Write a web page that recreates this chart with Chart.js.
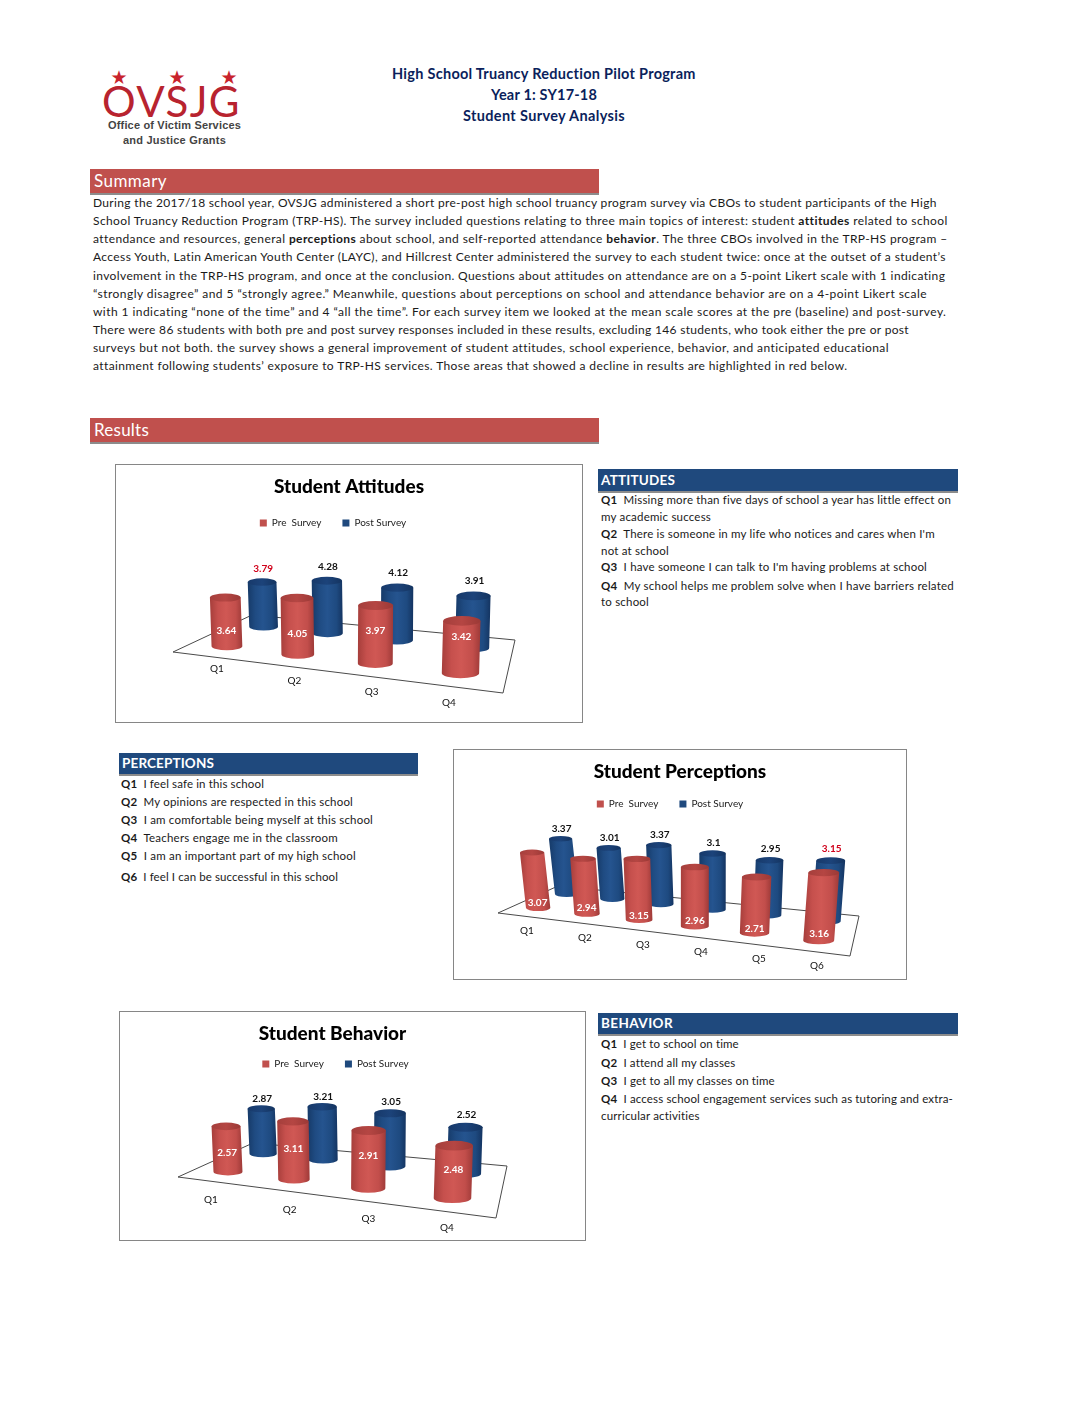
<!DOCTYPE html>
<html><head><meta charset="utf-8">
<script src="https://cdn.jsdelivr.net/npm/chart.js@4"></script>
<style>
html,body{margin:0;padding:0;background:#fff;width:1088px;height:1408px;overflow:hidden}
body{position:relative;font-family:Lato,sans-serif;color:#1a1a1a}
.t{position:absolute;white-space:nowrap;line-height:1;display:inline-block}
.bar{position:absolute;box-sizing:border-box;border-bottom:2px solid #8c8c8c}
.box{position:absolute;box-sizing:border-box;border:1px solid #868686;background:#fff}
.box canvas{position:absolute;left:0;top:0}
</style></head><body>
<script>
/* ---------- chart data ---------- */
const attitudesCategories = ['Q1','Q2','Q3','Q4'];
const attitudesPre  = [3.64,4.05,3.97,3.42];
const attitudesPost = [3.79,4.28,4.12,3.91];
const perceptionsCategories = ['Q1','Q2','Q3','Q4','Q5','Q6'];
const perceptionsPre  = [3.07,2.94,3.15,2.96,2.71,3.16];
const perceptionsPost = [3.37,3.01,3.37,3.1,2.95,3.15];
const behaviorCategories = ['Q1','Q2','Q3','Q4'];
const behaviorPre  = [2.57,3.11,2.91,2.48];
const behaviorPost = [2.87,3.21,3.05,2.52];
const seriesNames = ['Pre  Survey','Post Survey'];
/* post-survey items flagged in red */
const attitudesDeclines = [0];
const perceptionsDeclines = [5];
const behaviorDeclines = [];

/* ---------- page text ---------- */
const titleLines = ['High School Truancy Reduction Pilot Program','Year 1: SY17-18','Student Survey Analysis'];
const summaryLines = [
'During the 2017/18 school year, OVSJG administered a short pre-post high school truancy program survey via CBOs to student participants of the High',
'School Truancy Reduction Program (TRP-HS). The survey included questions relating to three main topics of interest: student <b>attitudes</b> related to school',
'attendance and resources, general <b>perceptions</b> about school, and self-reported attendance <b>behavior</b>. The three CBOs involved in the TRP-HS program –',
'Access Youth, Latin American Youth Center (LAYC), and Hillcrest Center administered the survey to each student twice: once at the outset of a student’s',
'involvement in the TRP-HS program, and once at the conclusion. Questions about attitudes on attendance are on a 5-point Likert scale with 1 indicating',
'“strongly disagree” and 5 “strongly agree.” Meanwhile, questions about perceptions on school and attendance behavior are on a 4-point Likert scale',
'with 1 indicating “none of the time” and 4 “all the time”. For each survey item we looked at the mean scale scores at the pre (baseline) and post-survey.',
'There were 86 students with both pre and post survey responses included in these results, excluding 146 students, who took either the pre or post',
'surveys but not both. the survey shows a general improvement of student attitudes, school experience, behavior, and anticipated educational',
'attainment following students’ exposure to TRP-HS services. Those areas that showed a decline in results are highlighted in red below.'];
const summaryRights = [937,948,947,946,945,927,947,909,889,847];
const summaryYs = [202.5,220.5,238.5,256.5,275.5,293.5,311.5,329.5,347.5,365.5];
const attitudesText = [
['<b>Q1</b>&nbsp; Missing more than five days of school a year has little effect on',500,950],
['my academic success',517,711],
['<b>Q2</b>&nbsp; There is someone in my life who notices and cares when I\'m',534,935],
['not at school',551,669],
['<b>Q3</b>&nbsp; I have someone I can talk to I\'m having problems at school',567,927],
['<b>Q4</b>&nbsp; My school helps me problem solve when I have barriers related',586,954],
['to school',602,649]];
const perceptionsText = [
['<b>Q1</b>&nbsp; I feel safe in this school',784,264],
['<b>Q2</b>&nbsp; My opinions are respected in this school',802,353],
['<b>Q3</b>&nbsp; I am comfortable being myself at this school',820,373],
['<b>Q4</b>&nbsp; Teachers engage me in the classroom',838,338],
['<b>Q5</b>&nbsp; I am an important part of my high school',856,356],
['<b>Q6</b>&nbsp; I feel I can be successful in this school',877,338]];
const behaviorText = [
['<b>Q1</b>&nbsp; I get to school on time',1044,739],
['<b>Q2</b>&nbsp; I attend all my classes',1063,735],
['<b>Q3</b>&nbsp; I get to all my classes on time',1081,775],
['<b>Q4</b>&nbsp; I access school engagement services such as tutoring and extra-',1099,953],
['curricular activities',1116,700]];

/* ---------- page helpers ---------- */
function place(html,left,cy,right,css){
  const d=document.createElement('div');d.className='t';d.innerHTML=html;
  Object.assign(d.style,{left:left+'px',top:'0px'},css||{});
  document.body.appendChild(d);
  const r=d.getBoundingClientRect();
  if(right!=null){
    const n=d.textContent.length;
    d.style.letterSpacing=((right-left-r.width)/n)+'px';
  }
  d.style.top=(cy-r.height/2)+'px';
  return d;
}
function band(x,y,w,h,color){
  const b=document.createElement('div');b.className='bar';
  Object.assign(b.style,{left:x+'px',top:y+'px',width:w+'px',height:h+'px',background:color});
  document.body.appendChild(b);
}
/* logo */
place('OVSJG',102,100.5,241,{fontSize:'42px',fontWeight:'400',color:'#b8232f'});
[119,177,229].forEach(x=>{
  place('★',x-10,77,null,{fontFamily:'"DejaVu Sans"',fontSize:'19px',color:'#c8232c',width:'20px',textAlign:'center'});
});
place('Office of Victim Services',108,125.5,241,{fontFamily:'"Liberation Sans"',fontWeight:'700',fontSize:'11px',color:'#444'});
place('and Justice Grants',123,140.5,226,{fontFamily:'"Liberation Sans"',fontWeight:'700',fontSize:'11px',color:'#444'});
/* title */
[[392,696,74],[491,597,95],[463,625,116]].forEach((p,i)=>{
  place(titleLines[i],p[0],p[2],p[1],{fontWeight:'700',fontSize:'14.5px',color:'#0b1f5c'});
});
/* section bands */
band(90,169,509,26,'#C0504D');band(90,418,509,26,'#C0504D');
band(598,469,360,24,'#1F497D');band(119,753,299,23,'#1F497D');band(598,1013,360,23,'#1F497D');
place('Summary',94,180.5,167,{fontSize:'17px',color:'#fff'});
place('Results',94,429.5,149,{fontSize:'17px',color:'#fff'});
place('ATTITUDES',601,481,675,{fontSize:'13.5px',fontWeight:'700',color:'#fff'});
place('PERCEPTIONS',122,764,214,{fontSize:'13.5px',fontWeight:'700',color:'#fff'});
place('BEHAVIOR',601,1024,673,{fontSize:'13.5px',fontWeight:'700',color:'#fff'});
summaryLines.forEach((s,i)=>place(s,93,summaryYs[i],summaryRights[i],{fontSize:'12px'}));
attitudesText.forEach(l=>place(l[0],601,l[1],l[2],{fontSize:'11.5px'}));
perceptionsText.forEach(l=>place(l[0],121,l[1],l[2],{fontSize:'11.5px'}));
behaviorText.forEach(l=>place(l[0],601,l[1],l[2],{fontSize:'11.5px'}));

/* ---------- 3-D look built on the library's scales ---------- */
function quadMap(q){
  const [x0,y0]=q[0],[x1,y1]=q[1],[x2,y2]=q[2],[x3,y3]=q[3];
  const dx1=x1-x2,dx2=x3-x2,sx=x0-x1+x2-x3,dy1=y1-y2,dy2=y3-y2,sy=y0-y1+y2-y3;
  const den=dx1*dy2-dx2*dy1,g=(sx*dy2-dx2*sy)/den,h=(dx1*sy-sx*dy1)/den;
  const a=x1-x0+g*x1,b=x3-x0+h*x3,c=x0,d=y1-y0+g*y1,e=y3-y0+h*y3,f=y0;
  return (u,v)=>{const w=g*u+h*v+1;return {x:(a*u+b*v+c)/w,y:(d*u+e*v+f)/w};};
}
const shades={
  '#C0504D':{side:['#a63e3b','#c6504d','#d05854','#c24e4b','#9e3a38'],cap:['#a53f3c','#b54643','#9b3936']},
  '#1F497D':{side:['#163a68','#1f4b82','#25548f','#1e4a80','#143461'],cap:['#17396a','#1c437a','#143460']}
};
function cylinder(ctx,base,top,w,ratio,color){
  const rx=w/2,ry=w*ratio,s=shades[color];
  const l=Math.min(base.x,top.x)-rx,r=Math.max(base.x,top.x)+rx;
  const g=ctx.createLinearGradient(l,0,r,0);
  s.side.forEach((c,i)=>g.addColorStop([0,.25,.5,.8,1][i],c));
  ctx.fillStyle=g;
  ctx.beginPath();ctx.moveTo(top.x-rx,top.y);ctx.lineTo(top.x+rx,top.y);ctx.lineTo(base.x+rx,base.y);
  ctx.ellipse(base.x,base.y,rx,ry,0,0,Math.PI);ctx.closePath();ctx.fill();
  const c=ctx.createLinearGradient(top.x-rx,0,top.x+rx,0);
  c.addColorStop(0,s.cap[0]);c.addColorStop(.5,s.cap[1]);c.addColorStop(1,s.cap[2]);
  ctx.fillStyle=c;ctx.beginPath();ctx.ellipse(top.x,top.y,rx,ry,0,0,Math.PI*2);ctx.fill();
}
function geometry(chart,di,i){
  const cfg=chart.options.plugins.floor3d,map=chart.$map||(chart.$map=quadMap(cfg.floor));
  const xs=chart.scales.x,a=chart.chartArea,n=chart.data.labels.length;
  const el=chart.getDatasetMeta(di).data[i];
  const catW=a.width/n,u=(xs.getPixelForValue(i)-a.left)/a.width;
  const v=di===0?cfg.vPre:cfg.vPost;
  const p=map(u,v),p1=map(u-.5/n,v),p2=map(u+.5/n,v);
  const local=Math.hypot(p2.x-p1.x,p2.y-p1.y);
  const w=Math.pow(local,.7)*cfg.widthK*el.width/catW;
  const h=(el.base-el.y)/a.height*cfg.heightFactor*(di===0?1:cfg.backRow)*Math.sqrt(local);
  const top={x:p.x+(u-cfg.leanCenter)*cfg.lean*h,y:p.y-h};
  return {base:p,top,w,h};
}
const floor3d={
  id:'floor3d',
  afterLayout(chart,_,o){
    chart.titleBlock.left+=o.titleShift;chart.titleBlock.right+=o.titleShift;
    chart.legend.left+=o.legendShift;chart.legend.right+=o.legendShift;
    chart.legend.top=o.legendTop;
    chart.$map=null;
  },
  beforeDatasetsDraw(chart,_,o){
    const ctx=chart.ctx,q=o.floor;
    ctx.save();ctx.strokeStyle='#4a4a4a';ctx.lineWidth=1;ctx.fillStyle='#fff';
    ctx.beginPath();q.forEach((p,i)=>i?ctx.lineTo(p[0],p[1]):ctx.moveTo(p[0],p[1]));ctx.closePath();ctx.fill();ctx.stroke();
    ctx.restore();
  },
  beforeDatasetDraw(chart,args,o){
    const ctx=chart.ctx,col=chart.data.datasets[args.index].backgroundColor;
    chart.getDatasetMeta(args.index).data.forEach((el,i)=>{
      const g=geometry(chart,args.index,i);
      cylinder(ctx,g.base,g.top,g.w,o.capRatio,col);
    });
    return false;
  },
  afterDatasetsDraw(chart,_,o){
    const ctx=chart.ctx,n=chart.data.labels.length;
    ctx.save();ctx.textAlign='center';ctx.textBaseline='middle';
    ctx.font='10px Lato';ctx.fillStyle='#111';
    const [a,b]=o.labelLine;
    chart.data.labels.forEach((t,i)=>{
      const k=i/(n-1);
      ctx.fillText(t,a[0]+(b[0]-a[0])*k,a[1]+(b[1]-a[1])*k);
    });
    ctx.font='700 10px Lato';
    chart.data.datasets[1].data.forEach((val,i)=>{
      const g=geometry(chart,1,i);
      ctx.fillStyle=o.flagged.includes(i)?'#d0021b':'#111';
      ctx.fillText(String(val),g.top.x+1,g.top.y-g.w*o.gap);
    });
    ctx.fillStyle='#fff';
    chart.data.datasets[0].data.forEach((val,i)=>{
      const g=geometry(chart,0,i);
      ctx.fillText(val.toFixed(2),(g.top.x*(1-o.along[i])+g.base.x*o.along[i]),g.top.y+g.h*o.along[i]);
    });
    ctx.restore();
  }
};
Chart.register(floor3d);

function build(box,labels,pre,post,title,opts){
  const d=document.createElement('div');d.className='box';
  Object.assign(d.style,{left:box[0]+'px',top:box[1]+'px',width:box[2]+'px',height:box[3]+'px'});
  document.body.appendChild(d);
  const c=document.createElement('canvas');c.width=box[2]-2;c.height=box[3]-2;
  c.style.width=(box[2]-2)+'px';c.style.height=(box[3]-2)+'px';d.appendChild(c);
  const rel=p=>[p[0]-box[0]-1,p[1]-box[1]-1];
  opts.floor=opts.floor.map(rel);opts.labelLine=opts.labelLine.map(rel);
  new Chart(c,{type:'bar',
    data:{labels,datasets:[
      {label:seriesNames[0],data:pre,backgroundColor:'#C0504D',borderWidth:0,barPercentage:opts.frac*2,categoryPercentage:1},
      {label:seriesNames[1],data:post,backgroundColor:'#1F497D',borderWidth:0,barPercentage:opts.frac*2,categoryPercentage:1}]},
    options:{responsive:false,animation:false,devicePixelRatio:1,
      layout:{padding:0},
      scales:{x:{display:false},y:{display:false,min:0,max:opts.max}},
      plugins:{
        tooltip:{enabled:false},
        title:{display:true,text:title,color:'#000',font:{family:'Lato',size:19,weight:'900'},padding:{top:opts.titleTop,bottom:0}},
        legend:{display:true,position:'top',labels:{boxWidth:7,boxHeight:7,padding:21,color:'#222',font:{family:'Lato',size:10},useBorderRadius:false}},
        floor3d:opts
      }}});
}
build([115,464,468,259],attitudesCategories,attitudesPre,attitudesPost,'Student Attitudes',{
  floor:[[173,652],[503,693],[515,640],[252,615]],max:5,frac:.43,widthK:3.72,heightFactor:8.07,backRow:.93,capRatio:.13,lean:.08,leanCenter:.55,
  vPre:.22,vPost:.72,labelLine:[[217,669],[449,703]],gap:.45,along:[.68,.64,.44,.31],flagged:attitudesDeclines,
  titleTop:10,titleShift:0,legendShift:-16,legendTop:32});
build([453,749,454,231],perceptionsCategories,perceptionsPre,perceptionsPost,'Student Perceptions',{
  floor:[[498,913],[850,956],[859,916],[558,886]],max:4,frac:.44,widthK:3.7,heightFactor:10.5,backRow:.94,capRatio:.12,lean:.22,leanCenter:.58,
  vPre:.25,vPost:.75,labelLine:[[527,931],[817,966]],gap:.42,along:[.9,.89,.93,.91,.93,.9],flagged:perceptionsDeclines,
  titleTop:10,titleShift:0,legendShift:-10,legendTop:28});
build([119,1011,467,230],behaviorCategories,behaviorPre,behaviorPost,'Student Behavior',{
  floor:[[178,1177],[496,1218],[507,1166],[253,1143]],max:4,frac:.43,widthK:3.72,heightFactor:8.9,backRow:.93,capRatio:.13,lean:.1,leanCenter:.55,
  vPre:.22,vPost:.72,labelLine:[[211,1200],[447,1228]],gap:.36,along:[.58,.48,.44,.45],flagged:behaviorDeclines,
  titleTop:10,titleShift:-20,legendShift:-17,legendTop:26});
</script>
</body></html>
